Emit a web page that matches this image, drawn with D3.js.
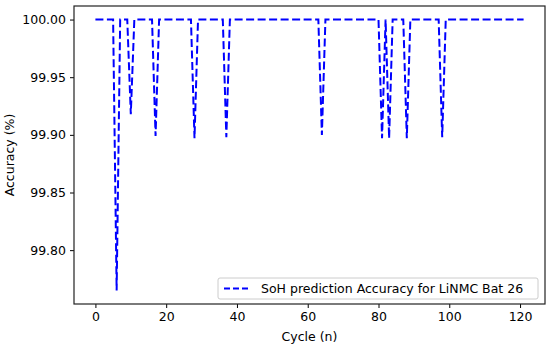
<!DOCTYPE html>
<html lang="en">
<head>
    <meta charset="utf-8">
    <script src="https://cdnjs.cloudflare.com/ajax/libs/d3/7.8.5/d3.min.js"></script>
    <style>
        body { margin: 0; background: #fff; }
        text { font-family: "DejaVu Sans", sans-serif; fill: #000; }
    </style>
</head>
<body>
    <svg width="550" height="346"></svg>
    <script>
        // cycles 0..121, accuracy at 100 except the dips
        var dipCycles = [6, 10, 17, 28, 37, 64, 81, 83, 88, 98];
        var dipValues = [99.765, 99.918, 99.899, 99.897, 99.898, 99.900, 99.897, 99.897, 99.897, 99.898];
        var xTicks = [0, 20, 40, 60, 80, 100, 120];
        var yTicks = [99.80, 99.85, 99.90, 99.95, 100.00];

        var data = d3.range(0, 122).map(function(c) {
            var i = dipCycles.indexOf(c);
            return { cycle: c, acc: i >= 0 ? dipValues[i] : 100 };
        });

        var svg = d3.select("svg"),
            pLeft = 74, pRight = 545, pTop = 6, pBottom = 304;

        var x = d3.scaleLinear().domain([-6.05, 127.05]).range([pLeft, pRight]);
        var y = d3.scaleLinear().domain([99.7533, 100.01175]).range([pBottom, pTop]);

        svg.append("g")
            .attr("transform", "translate(0," + pBottom + ")")
            .call(d3.axisBottom(x).tickValues(xTicks).tickSize(4).tickPadding(4).tickSizeOuter(0))
            .call(function(g) { g.select(".domain").remove(); })
            .selectAll("text").style("font-size", "12.5px");

        svg.append("g")
            .attr("transform", "translate(" + pLeft + ",0)")
            .call(d3.axisLeft(y).tickValues(yTicks).tickFormat(d3.format(".2f")).tickSize(4).tickPadding(4).tickSizeOuter(0))
            .call(function(g) { g.select(".domain").remove(); })
            .selectAll("text").style("font-size", "12.5px");

        svg.append("rect")
            .attr("x", pLeft).attr("y", pTop)
            .attr("width", pRight - pLeft).attr("height", pBottom - pTop)
            .attr("fill", "none").attr("stroke", "#222").attr("stroke-width", 1.2);

        var line = d3.line()
            .x(function(d) { return x(d.cycle); })
            .y(function(d) { return y(d.acc); });

        svg.append("path")
            .datum(data)
            .attr("d", line)
            .attr("fill", "none")
            .attr("stroke", "#0000ff")
            .attr("stroke-width", 2)
            .attr("stroke-dasharray", "8,3.5");

        svg.append("text")
            .attr("x", (pLeft + pRight) / 2)
            .attr("y", 341)
            .attr("text-anchor", "middle")
            .style("font-size", "12.5px")
            .text("Cycle (n)");

        svg.append("text")
            .attr("transform", "translate(14," + (pTop + pBottom) / 2 + ") rotate(-90)")
            .attr("text-anchor", "middle")
            .style("font-size", "12.5px")
            .text("Accuracy (%)");

        // legend
        var lg = svg.append("g");
        lg.append("rect")
            .attr("x", 218).attr("y", 278).attr("width", 320).attr("height", 21)
            .attr("rx", 2)
            .attr("fill", "#fff").attr("stroke", "#ccc");
        lg.append("line")
            .attr("x1", 224).attr("x2", 251).attr("y1", 288.5).attr("y2", 288.5)
            .attr("stroke", "#0000ff").attr("stroke-width", 2)
            .attr("stroke-dasharray", "6,3");
        lg.append("text")
            .attr("x", 261).attr("y", 293)
            .style("font-size", "12.5px")
            .text("SoH prediction Accuracy for LiNMC Bat 26");
    </script>
</body>
</html>
